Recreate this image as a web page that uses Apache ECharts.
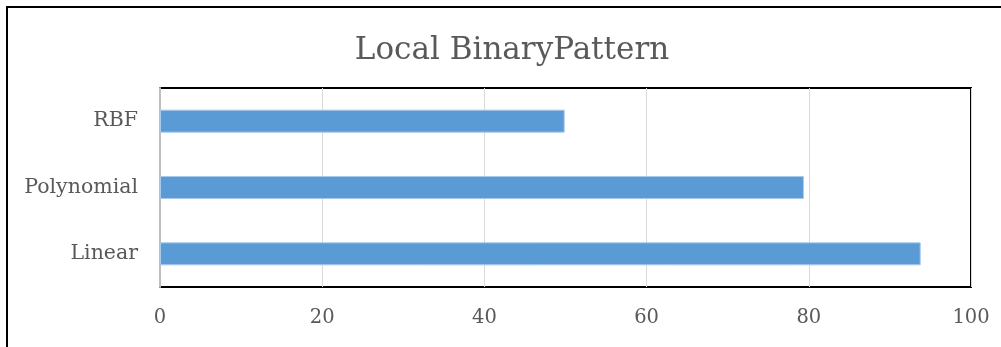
<!DOCTYPE html>
<html><head><meta charset="utf-8">
<script src="https://cdn.jsdelivr.net/npm/echarts@6/dist/echarts.min.js"></script>
<style>html,body{margin:0;padding:0;background:#fff}#c{width:1001px;height:347px}</style>
</head><body><div id="c"></div>
<script>
const title = 'Local BinaryPattern';
const categories = ['Linear', 'Polynomial', 'RBF'];
const values = [93.8, 79.4, 49.9];
const xTicks = [0, 20, 40, 60, 80, 100];

const chart = echarts.init(document.getElementById('c'));
const font = 'DejaVu Serif';
chart.setOption({
  animation: false,
  title: {
    text: title, left: 507, textAlign: 'center', top: 30,
    textStyle: { fontFamily: font, fontWeight: 'normal', fontSize: 31, color: '#595959' }
  },
  graphic: [{
    type: 'rect', z: 100, silent: true,
    shape: { x: 7, y: 7, width: 1100, height: 400 },
    style: { fill: 'none', stroke: '#000', lineWidth: 2 }
  }],
  grid: { left: 160, right: 30, top: 88, bottom: 60, show: true, borderColor: '#000', borderWidth: 2, containLabel: false },
  xAxis: {
    type: 'value', min: xTicks[0], max: xTicks[xTicks.length - 1], interval: 20,
    axisLine: { show: false }, axisTick: { show: false },
    splitLine: { show: true, lineStyle: { color: '#d9d9d9', width: 1 } },
    axisLabel: { fontFamily: font, fontSize: 19.5, color: '#595959', margin: 21 }
  },
  yAxis: {
    type: 'category', data: categories,
    axisLine: { show: true, lineStyle: { color: '#bfbfbf', width: 2 } },
    axisTick: { show: false },
    axisLabel: { fontFamily: font, fontSize: 20.5, color: '#595959', margin: 22 }
  },
  series: [{
    type: 'bar', data: values, barWidth: 23,
    itemStyle: { color: '#5b9bd5', borderColor: '#a9c9e8', borderWidth: 1 }
  }]
});
</script></body></html>
